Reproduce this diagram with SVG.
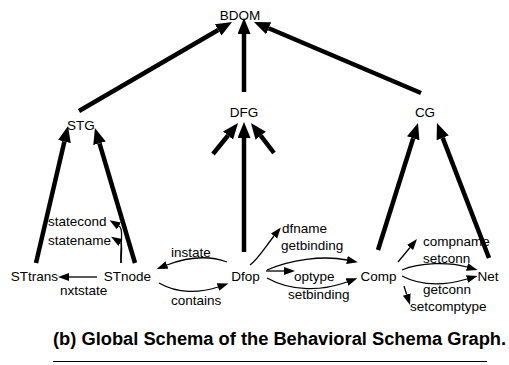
<svg xmlns="http://www.w3.org/2000/svg" width="509" height="365" viewBox="0 0 509 365">
  <style>
    text { font-family: "Liberation Sans", Arial, sans-serif; font-size: 13.5px; fill: #000; }
    .node { text-anchor: middle; }
    .lbl { text-anchor: start; }
    .thick { fill: none; stroke: #000; stroke-width: 4.5; }
    .thin { fill: none; stroke: #000; stroke-width: 1.3; }
    .caption { font-weight: bold; font-size: 18.3px; }
  </style>
  <defs>
    <marker id="bigHead" markerUnits="userSpaceOnUse" markerWidth="18" markerHeight="14" refX="0" refY="6.5" orient="auto">
      <path d="M0,0 L16,6.5 L0,13 Z" fill="#000"/>
    </marker>
    <marker id="smallHead" markerUnits="userSpaceOnUse" markerWidth="13" markerHeight="9" refX="0" refY="4" orient="auto">
      <path d="M0,0 L11,4 L0,8 Z" fill="#000"/>
    </marker>
  </defs>

  <rect width="509" height="365" fill="#fff"/>

  <!-- connectors -->
  <g id="connectors">
    <!-- subgraphs into BDOM -->
    <path class="thick" d="M79,111 L218.2,30" marker-end="url(#bigHead)"/>
    <path class="thick" d="M244,92 L244,34" marker-end="url(#bigHead)"/>
    <path class="thick" d="M421,93 L268.7,28.3" marker-end="url(#bigHead)"/>
    <!-- into STG -->
    <path class="thick" d="M36,263 L64.4,141.6" marker-end="url(#bigHead)"/>
    <path class="thick" d="M135,263 L99.5,143.3" marker-end="url(#bigHead)"/>
    <!-- into DFG -->
    <path class="thick" d="M244,252 L244,138" marker-end="url(#bigHead)"/>
    <path class="thick" d="M213,154 L228,135.5" marker-end="url(#bigHead)"/>
    <path class="thick" d="M274,153 L260.7,135.7" marker-end="url(#bigHead)"/>
    <!-- into CG -->
    <path class="thick" d="M378,250 L413.2,138.3" marker-end="url(#bigHead)"/>
    <path class="thick" d="M489,258 L442.7,137.9" marker-end="url(#bigHead)"/>

    <!-- STG attributes -->
    <path class="thin" d="M97,277 L69,277" marker-end="url(#smallHead)"/>
    <path class="thin" d="M121,263 C120,245 124,229 119,226" marker-end="url(#smallHead)"/>
    <path class="thin" d="M121,263 C121,252 123,244 120.5,242.5" marker-end="url(#smallHead)"/>
    <path class="thin" d="M227,262 C208,255 188,257 167,265" marker-end="url(#smallHead)"/>
    <path class="thin" d="M159,283 C178,294 200,293 218,287" marker-end="url(#smallHead)"/>

    <!-- DFG attributes -->
    <path class="thin" d="M250,265 C258,259 266,246 274,236" marker-end="url(#smallHead)"/>
    <path class="thin" d="M267,270 C290,260 322,255 347,260" marker-end="url(#smallHead)"/>
    <path class="thin" d="M266,271 L284,271" marker-end="url(#smallHead)"/>
    <path class="thin" d="M267,278 C292,292 322,291 347,282" marker-end="url(#smallHead)"/>

    <!-- CG attributes -->
    <path class="thin" d="M398,262 L410,247.5" marker-end="url(#smallHead)"/>
    <path class="thin" d="M402,270 C420,262 450,262 467,267" marker-end="url(#smallHead)"/>
    <path class="thin" d="M402,276 C425,288 450,284 467,279" marker-end="url(#smallHead)"/>
    <path class="thin" d="M404,286 L406.7,294.5" marker-end="url(#smallHead)"/>
  </g>

  <!-- nodes -->
  <g id="BDOM"><text class="node" x="240" y="20">BDOM</text></g>
  <g id="STG"><text class="node" x="81" y="130">STG</text></g>
  <g id="DFG"><text class="node" x="244" y="117">DFG</text></g>
  <g id="CG"><text class="node" x="425" y="117">CG</text></g>
  <g id="STtrans"><text class="node" x="34.5" y="281">STtrans</text></g>
  <g id="STnode"><text class="node" x="127.5" y="281">STnode</text></g>
  <g id="Dfop"><text class="node" x="245.5" y="281">Dfop</text></g>
  <g id="Comp"><text class="node" x="378.5" y="281">Comp</text></g>
  <g id="Net"><text class="node" x="488" y="281">Net</text></g>

  <!-- edge labels -->
  <g id="labels">
    <text class="lbl" x="60" y="295">nxtstate</text>
    <text class="lbl" x="48" y="226">statecond</text>
    <text class="lbl" x="48" y="245">statename</text>
    <text class="lbl" x="171" y="257">instate</text>
    <text class="lbl" x="171" y="305">contains</text>
    <text class="lbl" x="282" y="233">dfname</text>
    <text class="lbl" x="281" y="250">getbinding</text>
    <text class="lbl" x="294" y="281">optype</text>
    <text class="lbl" x="288" y="299">setbinding</text>
    <text class="lbl" x="423" y="246">compname</text>
    <text class="lbl" x="423" y="263">setconn</text>
    <text class="lbl" x="423" y="294">getconn</text>
    <text class="lbl" x="410" y="311">setcomptype</text>
  </g>

  <!-- caption -->
  <g id="caption">
    <text class="caption" x="53" y="345">(b) Global Schema of the Behavioral Schema Graph.</text>
    <line x1="53" y1="361.5" x2="487" y2="361.5" stroke="#000" stroke-width="1"/>
  </g>
</svg>
